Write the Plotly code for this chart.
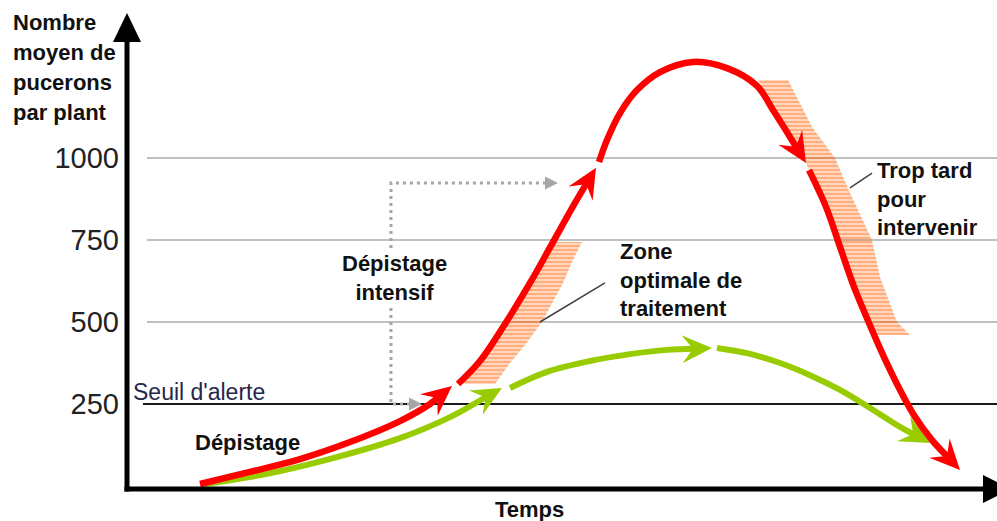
import numpy as np
import plotly.graph_objects as go

# ---------------- data (time in arbitrary units, aphids per plant) ----------------
y_tick_values = [250, 500, 750, 1000]
y_tick_labels = ["250", "500", "750", "1000"]
seuil_alerte = 250
grid_levels = [500, 750, 1000]

# red curve: population without treatment (4 arrowed segments)
red_seg1_t = [200, 250, 300, 350, 400, 430, 452]
red_seg1_n = [6, 43, 82, 134, 198, 250, 305]
red_seg2_t = [458, 480, 505, 530, 552, 575, 596]
red_seg2_n = [311, 381, 494, 619, 738, 863, 970]
red_seg3_t = [599, 607, 620, 637, 660, 693, 727, 757, 773, 790, 806]
red_seg3_n = [988, 1055, 1137, 1207, 1262, 1293, 1274, 1220, 1146, 1064, 985]
red_seg4_t = [809, 826, 840, 854, 869, 884, 899, 914, 932, 960]
red_seg4_n = [963, 851, 729, 607, 497, 393, 299, 216, 140, 49]

# green curve: population with treatment at the right time (3 arrowed segments)
green_seg1_t = [205, 267, 333, 400, 450, 502]
green_seg1_n = [6, 37, 85, 146, 210, 299]
green_seg2_t = [510, 547, 590, 630, 667, 712]
green_seg2_n = [299, 348, 381, 402, 415, 421]
green_seg3_t = [717, 747, 780, 810, 840, 870, 900, 930]
green_seg3_n = [421, 405, 375, 338, 293, 238, 180, 131]

# hatched zones
zone_opt_t = [462, 480, 505, 530, 552, 582, 572, 563, 542, 525, 510, 495, 462]
zone_opt_n = [311, 381, 494, 619, 744, 744, 683, 619, 500, 430, 375, 311, 311]
zone_late_t = [758, 775, 792, 806, 826, 840, 854, 869, 876, 910, 897, 880, 872, 850, 835, 812, 788, 758]
zone_late_n = [1238, 1152, 1070, 985, 851, 729, 607, 497, 460, 460, 500, 637, 750, 893, 1000, 1095, 1238, 1238]

# "Dépistage intensif" dotted guide (ends are arrow tips)
guide_t = [422, 391, 391, 558]
guide_n = [250, 250, 924, 924]

# leader lines for labels
leader_opt_t = [540, 605]
leader_opt_n = [500, 619]
leader_late_t = [850, 872]
leader_late_n = [909, 954]

# ---------------- geometry helpers ----------------
W, H = 997, 521
ML = 127
X_RANGE = [127.0, 997.0]
Y_RANGE = [-106.7, 1481.7]
RED = "#ff0000"
GREEN = "#99cc00"
ORANGE = "#ff6000"
GRAY = "#a6a6a6"
FONT = "Liberation Sans, Arial, sans-serif"


def to_px(t, n):
    t = np.asarray(t, float)
    n = np.asarray(n, float)
    x = ML + (t - X_RANGE[0]) * (W - ML) / (X_RANGE[1] - X_RANGE[0])
    y = H - (n - Y_RANGE[0]) / (Y_RANGE[1] - Y_RANGE[0]) * H
    return x, y


def from_px(x, y):
    x = np.asarray(x, float)
    y = np.asarray(y, float)
    t = X_RANGE[0] + (x - ML) * (X_RANGE[1] - X_RANGE[0]) / (W - ML)
    n = Y_RANGE[0] + (H - y) / H * (Y_RANGE[1] - Y_RANGE[0])
    return t, n


def xp(p):
    return (p - ML) / (W - ML)


def yp(p):
    return (H - p) / H


def arrow_segment(ts, ns, color, width, head_len=30, head_w=14, notch=19):
    xs, ys = to_px(ts, ns)
    tip = np.array([xs[-1], ys[-1]])
    k = len(xs) - 2
    while k > 0 and np.hypot(*(tip - [xs[k], ys[k]])) < 15:
        k -= 1
    d = tip - np.array([xs[k], ys[k]])
    d = d / np.hypot(*d)
    nrm = np.array([-d[1], d[0]])
    end = tip - d * (notch - 2)
    keep = [i for i in range(len(xs) - 1) if np.hypot(*(tip - [xs[i], ys[i]])) > notch + 4]
    lx = list(xs[keep]) + [end[0]]
    ly = list(ys[keep]) + [end[1]]
    lt, ln = from_px(lx, ly)
    head = [tip, tip - d * head_len + nrm * head_w, tip - d * notch,
            tip - d * head_len - nrm * head_w, tip]
    ht, hn = from_px([p[0] for p in head], [p[1] for p in head])
    return [
        go.Scatter(x=lt, y=ln, mode="lines", line=dict(color=color, width=width, shape="spline"),
                   hoverinfo="skip"),
        go.Scatter(x=ht, y=hn, mode="lines", fill="toself", fillcolor=color,
                   line=dict(width=0, color=color), hoverinfo="skip"),
    ]


def tri_head(tip_t, tip_n, dx, dy, length, half):
    tx, ty = to_px([tip_t], [tip_n])
    tip = np.array([tx[0], ty[0]])
    d = np.array([dx, dy], float)
    d = d / np.hypot(*d)
    nrm = np.array([-d[1], d[0]])
    pts = [tip, tip - d * length + nrm * half, tip - d * length - nrm * half, tip]
    return from_px([p[0] for p in pts], [p[1] for p in pts])


fig = go.Figure()

# hatched zones
for zt, zn in [(zone_opt_t, zone_opt_n), (zone_late_t, zone_late_n)]:
    fig.add_trace(go.Scatter(
        x=zt, y=zn, mode="lines", fill="toself", fillcolor="rgba(0,0,0,0)",
        fillpattern=dict(shape="-", fgcolor=ORANGE, bgcolor="rgba(255,255,255,0)", size=4, solidity=0.75),
        line=dict(width=0), hoverinfo="skip"))

# dotted guide with gray arrow heads
gx, gy = to_px(guide_t, guide_n)
gx2 = [gx[0] - 12, gx[1], gx[2], gx[3] - 12]
gt2, gn2 = from_px(gx2, gy)
fig.add_trace(go.Scatter(x=gt2, y=gn2, mode="lines",
                         line=dict(color=GRAY, width=3, dash="3px,4px"), hoverinfo="skip"))
for i in (0, 3):
    ht, hn = tri_head(guide_t[i], guide_n[i], 1, 0, 13, 6.5)
    fig.add_trace(go.Scatter(x=ht, y=hn, mode="lines", fill="toself", fillcolor=GRAY,
                             line=dict(width=0), hoverinfo="skip"))

# leader lines
for lt, ln in [(leader_opt_t, leader_opt_n), (leader_late_t, leader_late_n)]:
    fig.add_trace(go.Scatter(x=lt, y=ln, mode="lines", line=dict(color="#404040", width=1.5),
                             hoverinfo="skip"))

# green then red curves
for st, sn in [(green_seg1_t, green_seg1_n), (green_seg2_t, green_seg2_n), (green_seg3_t, green_seg3_n)]:
    for tr in arrow_segment(st, sn, GREEN, 6):
        fig.add_trace(tr)
for st, sn in [(red_seg1_t, red_seg1_n), (red_seg2_t, red_seg2_n),
               (red_seg3_t, red_seg3_n), (red_seg4_t, red_seg4_n)]:
    for tr in arrow_segment(st, sn, RED, 6.5):
        fig.add_trace(tr)

shapes = []
# gridlines and alert threshold
for g in grid_levels:
    shapes.append(dict(type="line", xref="x", yref="y", x0=from_px([147], [0])[0][0], x1=X_RANGE[1],
                       y0=g, y1=g, line=dict(color="#c0c0c0", width=2), layer="below"))
shapes.append(dict(type="line", xref="x", yref="y", x0=from_px([143], [0])[0][0], x1=X_RANGE[1],
                   y0=seuil_alerte, y1=seuil_alerte, line=dict(color="#1a1a1a", width=2), layer="below"))
# axes with arrows (paper coordinates so that they are not clipped)
shapes.append(dict(type="line", xref="paper", yref="paper", x0=xp(127), x1=xp(127), y0=yp(491.5), y1=yp(40),
                   line=dict(color="black", width=5)))
shapes.append(dict(type="line", xref="paper", yref="paper", x0=xp(124.5), x1=xp(985), y0=yp(489), y1=yp(489),
                   line=dict(color="black", width=5)))
shapes.append(dict(type="path", xref="paper", yref="paper",
                   path=f"M{xp(113)},{yp(42)} L{xp(127)},{yp(13)} L{xp(141)},{yp(42)} Z",
                   fillcolor="black", line=dict(width=0)))
shapes.append(dict(type="path", xref="paper", yref="paper",
                   path=f"M{xp(983)},{yp(475)} L{xp(1011)},{yp(489)} L{xp(983)},{yp(503)} Z",
                   fillcolor="black", line=dict(width=0)))

TXT = "#111111"
ann = []
for label, cy in [("Nombre", 22.5), ("moyen de", 52.5), ("pucerons", 83), ("par plant", 112.5)]:
    ann.append(dict(text=f"<b>{label}</b>", x=xp(11), y=yp(cy), xanchor="left", yanchor="middle",
                    font=dict(family=FONT, size=22, color=TXT)))
ann.append(dict(text="Seuil d'alerte", x=xp(131), y=yp(392), xanchor="left", yanchor="middle",
                font=dict(family=FONT, size=23, color="#26264d")))
ann.append(dict(text="<b>Dépistage</b>", x=xp(193), y=yp(442), xanchor="left", yanchor="middle",
                font=dict(family=FONT, size=22, color=TXT)))
ann.append(dict(text="<b>Dépistage<br>intensif</b>", x=xp(394), y=yp(277.5), xanchor="center",
                yanchor="middle", align="center", bgcolor="white", borderpad=0, borderwidth=0,
                font=dict(family=FONT, size=22, color=TXT)))
ann.append(dict(text="<b>Zone<br>optimale de<br>traitement</b>", x=xp(618), y=yp(280), xanchor="left",
                yanchor="middle", align="left", font=dict(family=FONT, size=22, color=TXT)))
ann.append(dict(text="<b>Trop tard<br>pour<br>intervenir</b>", x=xp(875), y=yp(199.5), xanchor="left",
                yanchor="middle", align="left", font=dict(family=FONT, size=22, color=TXT)))
ann.append(dict(text="<b>Temps</b>", x=xp(529), y=yp(509), xanchor="center", yanchor="middle",
                font=dict(family=FONT, size=22, color=TXT)))
for a in ann:
    a.update(xref="paper", yref="paper", showarrow=False)

fig.update_layout(
    width=W, height=H, margin=dict(l=ML, r=0, t=0, b=0, pad=0),
    paper_bgcolor="white", plot_bgcolor="white", showlegend=False,
    xaxis=dict(range=X_RANGE, visible=False, fixedrange=True),
    yaxis=dict(range=Y_RANGE, tickvals=y_tick_values, ticktext=y_tick_labels, showgrid=False,
               zeroline=False, showline=False, ticks="", ticklabelstandoff=7, fixedrange=True,
               tickfont=dict(family=FONT, size=29, color="#222222")),
    shapes=shapes, annotations=ann,
)

fig.write_html(
    "out.html",
    config={"displayModeBar": False},
    post_script="document.body.style.margin='0';document.body.style.overflow='hidden';",
)
